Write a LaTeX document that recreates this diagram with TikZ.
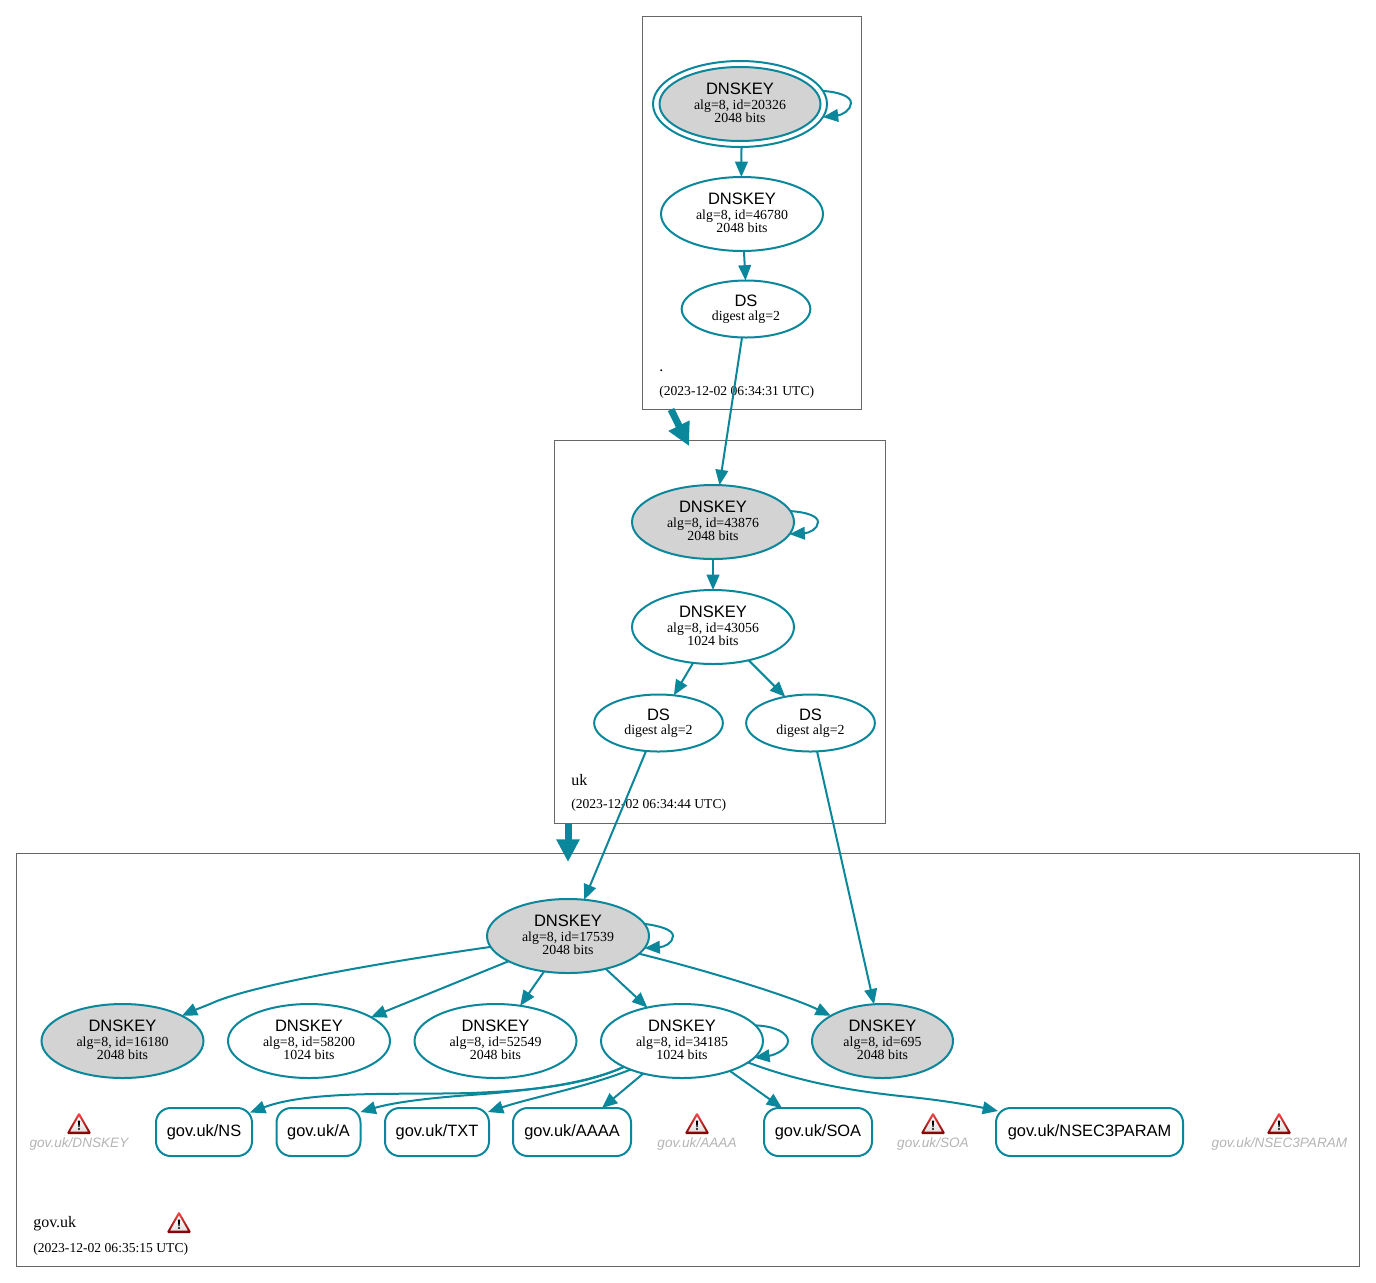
\documentclass[tikz,border=0pt]{standalone}
\usepackage{fontspec}
\setmainfont{Liberation Serif}
\newfontfamily\hvf{Liberation Sans}
\usetikzlibrary{shapes.geometric,arrows.meta,calc}
\definecolor{edgec}{HTML}{0A879A}
\definecolor{boxc}{HTML}{666666}
\definecolor{capc}{HTML}{B4B4B4}
\definecolor{grayf}{HTML}{D3D3D3}
\newcommand{\keytxt}[2]{{\hvf\fontsize{12.4}{10.2}\selectfont DNSKEY}\\[0.5pt]alg=8, id=#1\\#2 bits\rule[-1.5pt]{0pt}{0pt}}
\newcommand{\dstxt}{{\hvf\fontsize{12.4}{12.5}\selectfont DS}\\digest alg=2\rule[-1pt]{0pt}{0pt}}
\newcommand{\warnicon}[1]{%
  \begin{scope}[shift={#1}]
    \shade[top color=red!70!white,bottom color=red!50!black,draw=none,rounded corners=1.2pt]
      (0,-12) -- (12.5,10) -- (-12.5,10) -- cycle;
    \shade[top color=white,bottom color=black!12,rounded corners=0.3pt] (0,-7.5) -- (8.8,7.5) -- (-8.8,7.5) -- cycle;
    \fill[black] (-1.1,-3.5) -- (1.1,-3.5) -- (0.6,3) -- (-0.6,3) -- cycle;
    \fill[black] (0,5) circle (1.1);
  \end{scope}}
\tikzset{
  kn/.style={ellipse,draw=edgec,line width=1.5pt,inner sep=0pt,outer sep=0pt,align=center,
    font=\fontsize{10.4}{10.2}\selectfont,minimum width=#1*0.75pt,minimum height=55.5pt},
  kn/.default=162,
  ds/.style={ellipse,draw=edgec,line width=1.5pt,inner sep=0pt,outer sep=0pt,align=center,
    font=\fontsize{10.4}{10.8}\selectfont,minimum width=96.5pt,minimum height=42.75pt},
  ks/.style={fill=grayf},
  rr/.style={draw=edgec,line width=1.5pt,rounded corners=11pt,inner sep=0pt,outer sep=0pt,
    font=\hvf\fontsize{12.3}{14}\selectfont,minimum width=#1*0.75pt,minimum height=36pt},
  cl/.style 2 args={rectangle,draw=boxc,line width=0.75pt,inner sep=0pt,outer sep=0pt,
    minimum width=#1*0.75pt,minimum height=#2*0.75pt},
  ed/.style={draw=edgec,line width=1.5pt,-{Triangle[length=11.5pt,width=9.5pt]}},
  big/.style={draw=edgec,line width=5.25pt,-{Triangle[length=17pt,width=16.5pt]}},
  zname/.style={inner sep=0pt,anchor=base west,font=\fontsize{12}{14}\selectfont},
  zstamp/.style={inner sep=0pt,anchor=base west,font=\fontsize{10.2}{12}\selectfont},
  capt/.style={inner sep=0pt,anchor=base,text=capc,font=\hvf\itshape\fontsize{10.2}{12}\selectfont},
}
\begin{document}
\begin{tikzpicture}[x=0.75pt,y=-0.75pt]
\useasboundingbox (0,0) rectangle (1376,1282);
% clusters
\node[cl={219}{393}] (croot) at (752,212.5) {};
\node[cl={331}{383}] (cuk) at (720,632) {};
\node[cl={1343.5}{413}] (cgov) at (687.75,1060) {};
\node[zname] (lroot) at (659,371) {.};
\node[zstamp] (sroot) at (659,395) {(2023-12-02 06:34:31 UTC)};
\node[zname] (luk) at (571,785) {uk};
\node[zstamp] (suk) at (571,808.5) {(2023-12-02 06:34:44 UTC)};
\node[zname] (lgov) at (33,1227) {gov.uk};
\node[zstamp] (sgov) at (33,1252) {(2023-12-02 06:35:15 UTC)};
% root zone
\node[ellipse,draw=edgec,line width=1.5pt,inner sep=0pt,outer sep=0pt,minimum width=130.5pt,minimum height=64.5pt] (r1o) at (740,104) {};
\node[kn=161,ks] (r1) at (740,104) {\keytxt{20326}{2048}};
\node[kn] (r2) at (742,214) {\keytxt{46780}{2048}};
\node[ds] (r3) at (746,309) {\dstxt};
% uk zone
\node[kn,ks] (u1) at (713,522) {\keytxt{43876}{2048}};
\node[kn] (u2) at (713,627) {\keytxt{43056}{1024}};
\node[ds] (u3) at (658.5,723) {\dstxt};
\node[ds] (u4) at (810.5,723) {\dstxt};
% gov.uk zone
\node[kn,ks] (g1) at (568,936) {\keytxt{17539}{2048}};
\node[kn,ks] (k1) at (122.5,1041) {\keytxt{16180}{2048}};
\node[kn] (k2) at (309,1041) {\keytxt{58200}{1024}};
\node[kn] (k3) at (495.5,1041) {\keytxt{52549}{2048}};
\node[kn] (k4) at (682,1041) {\keytxt{34185}{1024}};
\node[kn=141,ks] (k5) at (882.5,1041) {\keytxt{695}{2048}};
\node[rr=96] (ns) at (204,1132) {gov.uk/NS};
\node[rr=84] (a) at (318.5,1132) {gov.uk/A};
\node[rr=104] (txt) at (437,1132) {gov.uk/TXT};
\node[rr=118] (aaaa) at (572,1132) {gov.uk/AAAA};
\node[rr=108] (soa) at (818,1132) {gov.uk/SOA};
\node[rr=187] (nsec) at (1089.5,1132) {gov.uk/NSEC3PARAM};
% warnings
\warnicon{(79,1124)}
\warnicon{(697,1124)}
\warnicon{(933,1124)}
\warnicon{(1279,1124)}
\warnicon{(179,1223)}
\node[capt] (c1) at (79,1147) {gov.uk/DNSKEY};
\node[capt] (c2) at (697,1147) {gov.uk/AAAA};
\node[capt] (c3) at (933,1147) {gov.uk/SOA};
\node[capt] (c4) at (1279.5,1147) {gov.uk/NSEC3PARAM};
% cluster arrows
\coordinate (a1s) at (671,409.5);
\coordinate (a1t) at (689,446);
\coordinate (a2s) at (568,823.5);
\coordinate (a2t) at (568,862);
\draw[big] (a1s) -- (a1t);
\draw[big] (a2s) -- (a2t);
% root edges
\draw[ed] (r1o.9.7) .. controls (838,92) and (851,96) .. (851,103) .. controls (851,110) and (842,115) .. (r1o.-9);
\draw[ed] (r1o.-88.7) -- (r2.91);
\draw[ed] (r2.-87) -- (r3.91);
\draw[ed] (r3.-98) -- (u1.80.7);
% uk edges
\draw[ed] (u1.8.9) .. controls (806,512) and (818,516) .. (818,522) .. controls (818,529) and (809,533) .. (u1.-9.6);
\draw[ed] (u1.-90) -- (u2.90);
\draw[ed] (u2.-119.6) -- (u3.61);
\draw[ed] (u2.-43.7) -- (u4.134.4);
\draw[ed] (u3.-114) -- (g1.66.6);
\draw[ed] (u4.-77) -- (k5.103);
% gov.uk edges
\draw[ed] (g1.9) .. controls (661,926) and (673,930) .. (673,936) .. controls (673,943) and (664,947) .. (g1.-9.6);
\draw[ed] (g1.-172) .. controls (385,962) and (250,985) .. (210,1004) .. controls (200,1008) and (190,1012) .. (k1.23.5);
\draw[ed] (g1.-157.4) -- (k2.21.5);
\draw[ed] (g1.-124.8) -- (k3.55.8);
\draw[ed] (g1.-41.7) -- (k4.136.7);
\draw[ed] (g1.-14) .. controls (705,970) and (790,996) .. (k5.154.6);
\draw[ed] (k4.12) .. controls (775,1026) and (788,1033) .. (788,1041) .. controls (788,1049) and (775,1055) .. (k4.-13.6);
\draw[ed] (k4.-156.3) .. controls (590,1082) and (550,1090) .. (470,1093) .. controls (400,1095) and (310,1090) .. ($(ns.north east)+(-2,4.5)$);
\draw[ed] (k4.-156.3) .. controls (590,1082) and (540,1090) .. (470,1095) .. controls (430,1098) and (395,1102) .. ($(a.north east)+(0,4)$);
\draw[ed] (k4.-151.4) .. controls (590,1086) and (530,1098) .. ($(txt.north east)+(-1,4)$);
\draw[ed] (k4.-140.3) -- ($(aaaa.north)+(30,0)$);
\draw[ed] (k4.-32.6) -- ($(soa.north)+(-36,0)$);
\draw[ed] (k4.-18.7) .. controls (800,1082) and (850,1091) .. (910,1097) .. controls (940,1100) and (970,1105) .. ($(nsec.north west)+(2,3)$);
\end{tikzpicture}
\end{document}
